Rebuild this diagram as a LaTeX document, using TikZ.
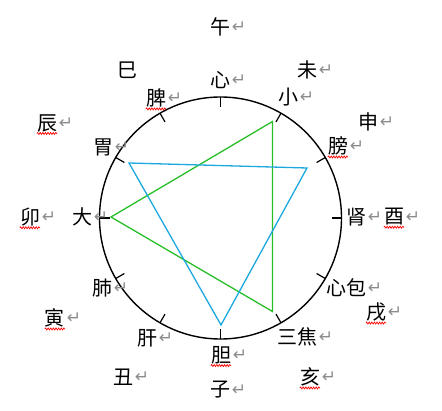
\documentclass[tikz,border=0pt]{standalone}
\usepackage{fontspec}
\newfontfamily\cjk{Noto Sans CJK SC}
\newfontfamily\retfont{DejaVu Sans}
\usetikzlibrary{decorations.pathmorphing}
\definecolor{tgreen}{RGB}{40,190,40}
\definecolor{tblue}{RGB}{28,168,222}
\tikzset{
  lab/.style={inner sep=0pt, font=\cjk\fontsize{20}{20}\selectfont},
  ret/.style={anchor=west, inner sep=0pt, xshift=1.5pt, yshift=-0.5pt, text=black!45, font=\retfont\fontsize{17}{17}\selectfont},
  squig/.style={draw=red, line width=0.7pt, decorate, decoration={snake, amplitude=1pt, segment length=2.6pt}},
  ring/.style={line width=1.4pt},
  tick/.style={line width=1.2pt},
  tri/.style={line width=1.3pt, line join=miter},
}
\newcommand{\lbl}[4]{\node[lab] (#1) at (#2,#3) {#4};\node[ret] (#1r) at (#1.east) {↵};}
\newcommand{\lblnr}[4]{\node[lab] (#1) at (#2,#3) {#4};}
\newcommand{\sq}[1]{\draw[squig] ([yshift=-1.5pt]#1.south west) -- ([yshift=-1.5pt]#1.south east);}
\begin{document}
\begin{tikzpicture}[x=1pt,y=1pt]
\useasboundingbox (0,0) rectangle (442,410);
\coordinate (c) at (220.5,192);
\draw[ring] (c) circle[radius=121pt];
\foreach \a in {0,30,...,330}{
  \draw[tick] (c) ++(\a:121) -- ++(\a+180:10);
}
% triangles
\coordinate (g1) at (272.5,288.5);
\coordinate (g2) at (111,193);
\coordinate (g3) at (272.5,98.5);
\draw[tri, tgreen] (g1) -- (g2) -- (g3) -- cycle;
\coordinate (b1) at (129,247);
\coordinate (b2) at (307,242);
\coordinate (b3) at (221,85);
\draw[tri, tblue] (b1) -- (b2) -- (b3) -- cycle;
% labels
\lbl{wu}{220}{383}{午}
\lblnr{si}{127}{340}{巳}
\lbl{wei}{307}{340}{未}
\lbl{xin}{220}{330}{心}
\lbl{pi}{156}{312}{脾}\sq{pi}
\lbl{xiao}{288}{313}{小}
\lbl{chen}{47}{287}{辰}\sq{chen}
\lbl{shen}{368}{288}{申}
\lbl{weis}{103}{263}{胃}
\lbl{pang}{338}{264}{膀}\sq{pang}
\lbl{mao}{30}{193}{卯}\sq{mao}
\lbl{da}{82}{193}{大}
\lbl{shenz}{356}{193}{肾}
\lbl{you}{394}{193}{酉}\sq{you}
\lbl{fei}{102}{122}{肺}
\lbl{xinbao}{346}{122}{心包}
\lbl{yin}{55}{92}{寅}\sq{yin}
\lbl{xu}{376}{98}{戌}\sq{xu}
\lbl{gan}{147}{72}{肝}
\lbl{sanjiao}{297}{73}{三焦}
\lbl{dan}{221}{55}{胆}\sq{dan}
\lbl{chou}{123}{33}{丑}
\lbl{hai}{310}{33}{亥}\sq{hai}
\lbl{zi}{220}{20}{子}
\end{tikzpicture}
\end{document}
